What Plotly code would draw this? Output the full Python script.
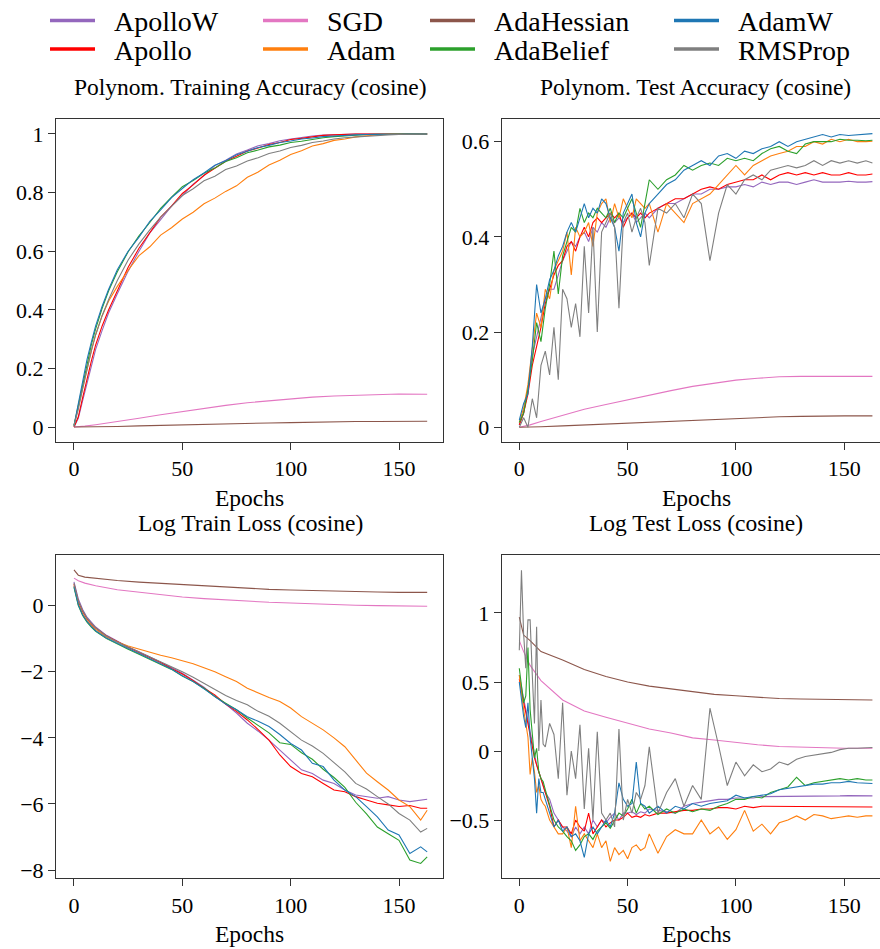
import plotly.graph_objects as go

# ---------------- data ----------------
NAMES = ["ApolloW", "Apollo", "SGD", "Adam", "AdaHessian", "AdaBelief", "AdamW", "RMSProp"]
COLORS = ["#9467bd", "#ff0000", "#e377c2", "#ff7f0e", "#8c564b", "#2ca02c", "#1f77b4", "#7f7f7f"]

SMOOTH_EPOCHS = [0, 2, 5, 10, 20, 30, 40, 50, 60, 70, 80, 90, 100, 110, 120, 130, 140, 150, 163]
TRAIN_ACC_EPOCHS = [0, 2, 4, 6, 8, 10, 13, 16, 20] + list(range(25, 161, 5)) + [163]
TEST_ACC_EPOCHS = list(range(0, 62, 2)) + list(range(64, 161, 4)) + [163]
TRAIN_LOSS_EPOCHS = [0, 1, 2, 4, 6, 8, 10] + list(range(15, 161, 5)) + [163]
TEST_LOSS_EPOCHS = list(range(0, 12)) + list(range(12, 62, 2)) + list(range(64, 161, 4)) + [163]

# Training accuracy
TA_APOLLOW = [0.0, 0.03, 0.09, 0.15, 0.21, 0.265, 0.33, 0.39, 0.455, 0.532, 0.6, 0.662, 0.708, 0.754, 0.79, 0.829, 0.858, 0.892, 0.91, 0.932, 0.945, 0.96, 0.967, 0.977, 0.983, 0.989, 0.993, 0.996, 0.998, 0.999, 1.0, 1.0, 1.0, 1.0, 1.0, 1.0, 1.0, 1.0]
TA_APOLLO = [0.0, 0.035, 0.1, 0.165, 0.225, 0.28, 0.345, 0.4, 0.466, 0.545, 0.61, 0.663, 0.716, 0.754, 0.797, 0.826, 0.859, 0.883, 0.907, 0.924, 0.942, 0.952, 0.964, 0.971, 0.981, 0.985, 0.991, 0.995, 0.997, 0.999, 1.0, 1.0, 1.0, 1.0, 1.0, 1.0, 1.0, 1.0]
TA_ADAM = [0.005, 0.07, 0.14, 0.2, 0.26, 0.315, 0.38, 0.43, 0.48, 0.535, 0.585, 0.615, 0.655, 0.68, 0.71, 0.733, 0.762, 0.781, 0.804, 0.823, 0.852, 0.87, 0.894, 0.91, 0.93, 0.943, 0.959, 0.967, 0.978, 0.983, 0.99, 0.994, 0.997, 0.999, 1.0, 1.0, 1.0, 1.0]
TA_ADABELIEF = [0.005, 0.075, 0.15, 0.22, 0.28, 0.335, 0.405, 0.465, 0.53, 0.598, 0.652, 0.698, 0.746, 0.784, 0.82, 0.841, 0.866, 0.884, 0.906, 0.919, 0.936, 0.945, 0.956, 0.962, 0.971, 0.975, 0.982, 0.987, 0.991, 0.994, 0.996, 0.998, 0.999, 1.0, 1.0, 1.0, 1.0, 1.0]
TA_ADAMW = [0.005, 0.08, 0.16, 0.23, 0.29, 0.345, 0.412, 0.47, 0.537, 0.6, 0.648, 0.702, 0.741, 0.783, 0.814, 0.844, 0.867, 0.893, 0.909, 0.929, 0.941, 0.954, 0.961, 0.971, 0.976, 0.983, 0.986, 0.991, 0.993, 0.996, 0.997, 0.998, 0.999, 0.999, 1.0, 1.0, 1.0, 1.0]
TA_RMSPROP = [0.005, 0.06, 0.13, 0.2, 0.26, 0.315, 0.38, 0.435, 0.5, 0.57, 0.625, 0.673, 0.716, 0.753, 0.79, 0.813, 0.84, 0.856, 0.879, 0.891, 0.908, 0.919, 0.933, 0.942, 0.954, 0.961, 0.971, 0.976, 0.983, 0.987, 0.99, 0.993, 0.995, 0.997, 0.998, 0.999, 1.0, 1.0]
TA_SGD = [0.0, 0.001, 0.003, 0.008, 0.018, 0.03, 0.042, 0.053, 0.064, 0.074, 0.083, 0.09, 0.097, 0.102, 0.106, 0.109, 0.111, 0.113, 0.112]
TA_ADAHESSIAN = [0.0, 0.0, 0.0, 0.001, 0.002, 0.004, 0.006, 0.007, 0.009, 0.011, 0.012, 0.014, 0.015, 0.017, 0.018, 0.019, 0.019, 0.02, 0.02]

# Test accuracy
TE_APOLLOW = [0.005, 0.03, 0.08, 0.15, 0.19, 0.23, 0.27, 0.29, 0.29, 0.32, 0.35, 0.37, 0.39, 0.38, 0.40, 0.41, 0.39, 0.42, 0.41, 0.43, 0.42, 0.44, 0.43, 0.44, 0.43, 0.44, 0.45, 0.43, 0.44, 0.45, 0.44,
              0.46, 0.47, 0.47, 0.48, 0.49, 0.49, 0.5, 0.5, 0.505, 0.505, 0.51, 0.505, 0.515, 0.51, 0.515, 0.515, 0.51, 0.515, 0.52, 0.515, 0.515, 0.515, 0.517, 0.515, 0.515, 0.516]
TE_APOLLO = [0.005, 0.03, 0.07, 0.13, 0.17, 0.21, 0.26, 0.29, 0.32, 0.34, 0.35, 0.38, 0.39, 0.37, 0.40, 0.42, 0.40, 0.43, 0.44, 0.43, 0.44, 0.45, 0.44, 0.45, 0.42, 0.44, 0.45, 0.44, 0.45, 0.44, 0.45,
             0.46, 0.47, 0.48, 0.48, 0.49, 0.5, 0.505, 0.5, 0.51, 0.515, 0.52, 0.52, 0.53, 0.52, 0.53, 0.535, 0.53, 0.535, 0.53, 0.535, 0.53, 0.53, 0.535, 0.53, 0.53, 0.532]
TE_ADAM = [0.01, 0.04, 0.09, 0.17, 0.24, 0.21, 0.29, 0.27, 0.33, 0.35, 0.37, 0.41, 0.32, 0.42, 0.40, 0.41, 0.43, 0.38, 0.45, 0.47, 0.48, 0.43, 0.47, 0.44, 0.48, 0.46, 0.44, 0.48, 0.47, 0.46, 0.47,
           0.41, 0.47, 0.45, 0.43, 0.47, 0.48, 0.49, 0.51, 0.53, 0.55, 0.53, 0.55, 0.56, 0.57, 0.575, 0.58, 0.59, 0.59, 0.6, 0.595, 0.605, 0.6, 0.605, 0.6, 0.6, 0.601]
TE_ADABELIEF = [0.01, 0.03, 0.08, 0.14, 0.22, 0.18, 0.25, 0.3, 0.37, 0.28, 0.36, 0.39, 0.42, 0.41, 0.46, 0.43, 0.45, 0.44, 0.46, 0.45, 0.44, 0.46, 0.43, 0.45, 0.44, 0.46, 0.48, 0.45, 0.42, 0.47, 0.52,
                0.5, 0.52, 0.53, 0.55, 0.54, 0.55, 0.555, 0.55, 0.565, 0.56, 0.565, 0.56, 0.575, 0.585, 0.59, 0.58, 0.575, 0.595, 0.6, 0.6, 0.6, 0.605, 0.603, 0.603, 0.602, 0.603]
TE_ADAMW = [0.015, 0.05, 0.07, 0.17, 0.30, 0.24, 0.27, 0.31, 0.33, 0.36, 0.38, 0.41, 0.43, 0.41, 0.44, 0.47, 0.44, 0.46, 0.45, 0.48, 0.47, 0.44, 0.42, 0.37, 0.45, 0.47, 0.49, 0.43, 0.40, 0.45, 0.47,
            0.49, 0.51, 0.52, 0.54, 0.55, 0.56, 0.55, 0.57, 0.575, 0.565, 0.58, 0.575, 0.585, 0.59, 0.6, 0.59, 0.6, 0.605, 0.61, 0.615, 0.61, 0.615, 0.613, 0.614, 0.615, 0.617]
TE_RMSPROP = [0.0, 0.02, 0.0, 0.06, 0.02, 0.13, 0.16, 0.11, 0.21, 0.1, 0.29, 0.27, 0.21, 0.26, 0.19, 0.38, 0.24, 0.42, 0.2, 0.41, 0.43, 0.45, 0.42, 0.25, 0.43, 0.45, 0.41, 0.44, 0.46, 0.43, 0.34,
              0.46, 0.45, 0.47, 0.44, 0.49, 0.47, 0.35, 0.45, 0.51, 0.49, 0.52, 0.53, 0.52, 0.54, 0.545, 0.55, 0.545, 0.55, 0.56, 0.55, 0.56, 0.555, 0.56, 0.555, 0.56, 0.555]
TE_SGD = [0.0, 0.002, 0.005, 0.012, 0.025, 0.038, 0.048, 0.058, 0.068, 0.077, 0.086, 0.092, 0.099, 0.103, 0.106, 0.107, 0.107, 0.108, 0.107]
TE_ADAHESSIAN = [0.0, 0.0, 0.0, 0.001, 0.003, 0.005, 0.007, 0.009, 0.011, 0.013, 0.015, 0.017, 0.019, 0.021, 0.022, 0.023, 0.024, 0.024, 0.024]

# Log train loss
TL_APOLLOW = [0.72, 0.45, 0.2, -0.12, -0.35, -0.5, -0.65, -0.9, -1.08, -1.25, -1.4, -1.55, -1.7, -1.87, -2.05, -2.25, -2.47, -2.75, -2.98, -3.25, -3.56, -3.8, -4.07, -4.37, -4.67, -4.97, -5.08, -5.28, -5.38, -5.58, -5.73, -5.78, -5.83, -5.78, -5.88, -5.93, -5.88, -5.86]
TL_APOLLO = [0.65, 0.38, 0.12, -0.18, -0.4, -0.55, -0.68, -0.92, -1.1, -1.26, -1.42, -1.57, -1.72, -1.9, -2.07, -2.27, -2.5, -2.7, -2.98, -3.2, -3.46, -3.75, -4.07, -4.52, -4.87, -5.08, -5.18, -5.38, -5.58, -5.63, -5.78, -5.88, -5.98, -6.03, -6.08, -6.05, -6.13, -6.13]
TL_ADAM = [0.6, 0.3, 0.05, -0.25, -0.45, -0.6, -0.72, -0.95, -1.1, -1.22, -1.32, -1.42, -1.5, -1.58, -1.66, -1.76, -1.88, -2.0, -2.15, -2.3, -2.5, -2.65, -2.78, -2.9, -3.1, -3.36, -3.55, -3.76, -4.0, -4.27, -4.67, -5.07, -5.33, -5.58, -5.88, -6.08, -6.49, -6.19]
TL_ADABELIEF = [0.55, 0.25, 0.0, -0.3, -0.5, -0.65, -0.78, -1.0, -1.17, -1.32, -1.47, -1.62, -1.77, -1.93, -2.13, -2.3, -2.5, -2.75, -2.95, -3.15, -3.4, -3.62, -3.85, -4.15, -4.2, -4.45, -4.65, -4.95, -5.2, -5.5, -5.95, -6.3, -6.7, -6.9, -7.1, -7.7, -7.8, -7.6]
TL_ADAMW = [0.58, 0.28, 0.02, -0.28, -0.48, -0.63, -0.76, -0.98, -1.15, -1.3, -1.45, -1.6, -1.75, -1.92, -2.12, -2.3, -2.52, -2.75, -2.98, -3.15, -3.36, -3.5, -3.66, -3.9, -4.17, -4.37, -4.77, -4.87, -5.28, -5.58, -5.78, -6.08, -6.39, -6.79, -6.94, -7.5, -7.3, -7.45]
TL_RMSPROP = [0.68, 0.4, 0.15, -0.15, -0.38, -0.53, -0.67, -0.92, -1.1, -1.25, -1.4, -1.55, -1.68, -1.85, -2.0, -2.17, -2.35, -2.55, -2.72, -2.87, -3.0, -3.2, -3.35, -3.56, -3.82, -4.07, -4.25, -4.47, -4.75, -5.03, -5.38, -5.55, -5.78, -6.0, -6.29, -6.49, -6.85, -6.74]
TL_SGD = [0.83, 0.75, 0.68, 0.6, 0.48, 0.4, 0.32, 0.26, 0.21, 0.17, 0.13, 0.1, 0.08, 0.05, 0.03, 0.01, 0.0, -0.01, -0.02]
TL_ADAHESSIAN = [1.08, 0.92, 0.86, 0.82, 0.76, 0.71, 0.67, 0.63, 0.59, 0.56, 0.52, 0.49, 0.47, 0.45, 0.43, 0.42, 0.41, 0.4, 0.4]

# Log test loss
TS_APOLLOW = [0.55, 0.45, 0.38, 0.3, 0.22, 0.15, 0.05, -0.03, -0.1, -0.15, -0.2, -0.25,
              -0.3, -0.35, -0.45, -0.5, -0.55, -0.58, -0.62, -0.55, -0.6, -0.55, -0.6, -0.5, -0.55, -0.5, -0.52, -0.48, -0.45, -0.5, -0.45, -0.45, -0.44, -0.46, -0.44, -0.45, -0.42,
              -0.43, -0.44, -0.45, -0.4, -0.38, -0.37, -0.36, -0.35, -0.35, -0.34, -0.34, -0.34, -0.33, -0.33, -0.33, -0.33, -0.33, -0.33, -0.325, -0.325, -0.325, -0.325, -0.323, -0.325, -0.325,
              -0.325]
TS_APOLLO = [0.52, 0.42, 0.35, 0.28, 0.2, 0.12, 0.05, -0.05, -0.1, -0.15, -0.2, -0.25,
             -0.3, -0.4, -0.55, -0.5, -0.55, -0.55, -0.6, -0.5, -0.55, -0.58, -0.45, -0.6, -0.55, -0.5, -0.55, -0.52, -0.5, -0.5, -0.48, -0.45, -0.48, -0.47, -0.48, -0.46, -0.47,
             -0.45, -0.45, -0.44, -0.43, -0.43, -0.42, -0.42, -0.41, -0.41, -0.42, -0.4, -0.41, -0.4, -0.4, -0.4, -0.4, -0.4, -0.4, -0.4, -0.4, -0.4, -0.4, -0.4, -0.4, -0.405,
             -0.405]
TS_ADAM = [0.55, 0.4, 0.3, 0.2, 0.1, -0.17, -0.05, -0.15, -0.3, -0.25, -0.35, -0.38,
           -0.4, -0.5, -0.55, -0.6, -0.6, -0.55, -0.7, -0.4, -0.65, -0.6, -0.65, -0.7, -0.6, -0.7, -0.65, -0.8, -0.7, -0.75, -0.72, -0.78, -0.7, -0.68, -0.72, -0.7, -0.6,
           -0.74, -0.62, -0.57, -0.6, -0.6, -0.5, -0.6, -0.55, -0.64, -0.57, -0.43, -0.58, -0.53, -0.6, -0.52, -0.5, -0.47, -0.5, -0.46, -0.47, -0.49, -0.48, -0.47, -0.48, -0.47,
           -0.47]
TS_ADABELIEF = [0.6, 0.45, 0.35, 0.4, 0.75, 0.3, 0.1, -0.05, 0.02, -0.15, -0.2, -0.22,
                -0.28, -0.4, -0.5, -0.55, -0.58, -0.62, -0.65, -0.72, -0.68, -0.62, -0.6, -0.64, -0.58, -0.55, -0.52, -0.56, -0.5, -0.45, -0.47, -0.42, -0.35, -0.45, -0.38, -0.42, -0.4,
                -0.46, -0.42, -0.45, -0.42, -0.44, -0.42, -0.43, -0.4, -0.38, -0.35, -0.35, -0.33, -0.34, -0.3, -0.28, -0.26, -0.19, -0.25, -0.23, -0.22, -0.21, -0.2, -0.21, -0.2, -0.21,
                -0.21]
TS_ADAMW = [0.5, 0.35, 0.25, 0.17, 0.35, 0.1, -0.05, -0.2, -0.45, -0.2, -0.3, -0.3,
            -0.35, -0.45, -0.55, -0.5, -0.58, -0.55, -0.62, -0.6, -0.65, -0.77, -0.6, -0.55, -0.6, -0.55, -0.5, -0.55, -0.45, -0.23, -0.35, -0.4, -0.38, -0.08, -0.38, -0.4, -0.45,
            -0.4, -0.45, -0.4, -0.42, -0.38, -0.4, -0.38, -0.37, -0.36, -0.32, -0.34, -0.33, -0.32, -0.31, -0.28, -0.27, -0.26, -0.25, -0.24, -0.24, -0.23, -0.23, -0.22, -0.23, -0.235,
            -0.235]
TS_RMSPROP = [0.73, 1.31, 0.85, 0.6, 0.95, 0.95, 0.55, 0.2, 0.9, 0.0, 0.37, 0.05,
              0.03, 0.2, 0.12, -0.2, 0.35, -0.32, 0.0, -0.2, 0.19, -0.42, 0.02, -0.5, 0.14, -0.45, -0.5, -0.45, -0.55, 0.16, -0.5, -0.35, -0.45, -0.3, -0.35, -0.25, 0.03,
              -0.45, -0.3, -0.2, -0.4, -0.25, -0.35, 0.31, 0.04, -0.25, -0.08, -0.18, -0.1, -0.15, -0.13, -0.08, -0.1, -0.06, -0.04, -0.03, -0.02, -0.01, 0.01, 0.02, 0.02, 0.025,
              0.025]
TS_SGD = [0.8, 0.72, 0.62, 0.51, 0.37, 0.29, 0.245, 0.205, 0.16, 0.13, 0.095, 0.08, 0.06, 0.045, 0.033, 0.027, 0.022, 0.02, 0.02]
TS_ADAHESSIAN = [0.97, 0.84, 0.8, 0.72, 0.66, 0.59, 0.54, 0.5, 0.47, 0.45, 0.425, 0.41, 0.4, 0.39, 0.38, 0.377, 0.374, 0.37, 0.37]

PANEL_TITLES = ["Polynom. Training Accuracy (cosine)", "Polynom. Test Accuracy (cosine)",
                "Log Train Loss (cosine)", "Log Test Loss (cosine)"]
X_TITLE = "Epochs"

# ---------------- figure ----------------
FONT = "Liberation Serif"
W, H = 880, 949

panels = [
    ("x", "y", {
        "ApolloW": (TRAIN_ACC_EPOCHS, TA_APOLLOW), "Apollo": (TRAIN_ACC_EPOCHS, TA_APOLLO),
        "SGD": (SMOOTH_EPOCHS, TA_SGD), "Adam": (TRAIN_ACC_EPOCHS, TA_ADAM),
        "AdaHessian": (SMOOTH_EPOCHS, TA_ADAHESSIAN), "AdaBelief": (TRAIN_ACC_EPOCHS, TA_ADABELIEF),
        "AdamW": (TRAIN_ACC_EPOCHS, TA_ADAMW), "RMSProp": (TRAIN_ACC_EPOCHS, TA_RMSPROP)}),
    ("x2", "y2", {
        "ApolloW": (TEST_ACC_EPOCHS, TE_APOLLOW), "Apollo": (TEST_ACC_EPOCHS, TE_APOLLO),
        "SGD": (SMOOTH_EPOCHS, TE_SGD), "Adam": (TEST_ACC_EPOCHS, TE_ADAM),
        "AdaHessian": (SMOOTH_EPOCHS, TE_ADAHESSIAN), "AdaBelief": (TEST_ACC_EPOCHS, TE_ADABELIEF),
        "AdamW": (TEST_ACC_EPOCHS, TE_ADAMW), "RMSProp": (TEST_ACC_EPOCHS, TE_RMSPROP)}),
    ("x3", "y3", {
        "ApolloW": (TRAIN_LOSS_EPOCHS, TL_APOLLOW), "Apollo": (TRAIN_LOSS_EPOCHS, TL_APOLLO),
        "SGD": (SMOOTH_EPOCHS, TL_SGD), "Adam": (TRAIN_LOSS_EPOCHS, TL_ADAM),
        "AdaHessian": (SMOOTH_EPOCHS, TL_ADAHESSIAN), "AdaBelief": (TRAIN_LOSS_EPOCHS, TL_ADABELIEF),
        "AdamW": (TRAIN_LOSS_EPOCHS, TL_ADAMW), "RMSProp": (TRAIN_LOSS_EPOCHS, TL_RMSPROP)}),
    ("x4", "y4", {
        "ApolloW": (TEST_LOSS_EPOCHS, TS_APOLLOW), "Apollo": (TEST_LOSS_EPOCHS, TS_APOLLO),
        "SGD": (SMOOTH_EPOCHS, TS_SGD), "Adam": (TEST_LOSS_EPOCHS, TS_ADAM),
        "AdaHessian": (SMOOTH_EPOCHS, TS_ADAHESSIAN), "AdaBelief": (TEST_LOSS_EPOCHS, TS_ADABELIEF),
        "AdamW": (TEST_LOSS_EPOCHS, TS_ADAMW), "RMSProp": (TEST_LOSS_EPOCHS, TS_RMSPROP)}),
]

LEGEND_IDS = ["legend", "legend2", "legend3", "legend4", "legend5", "legend6", "legend7", "legend8"]

fig = go.Figure()
for p, (xa, ya, series) in enumerate(panels):
    for i, name in enumerate(NAMES):
        ep, vals = series[name]
        fig.add_trace(go.Scatter(
            x=ep, y=vals, mode="lines", name=name,
            line=dict(color=COLORS[i], width=1.1),
            xaxis=xa, yaxis=ya, showlegend=False,
        ))

# legend handles (thicker line samples, no data points)
for i, name in enumerate(NAMES):
    fig.add_trace(go.Scatter(
        x=[None], y=[None], mode="lines", name="\u00a0\u00a0" + name,
        line=dict(color=COLORS[i], width=3.5),
        xaxis="x", yaxis="y", legend=LEGEND_IDS[i], showlegend=True, hoverinfo="skip",
    ))

def px_x(v):
    return v / W

def px_y(v):
    return 1 - v / H

axis_common = dict(showline=True, linecolor="#333", linewidth=1, ticks="outside", ticklen=7,
                   tickcolor="#333", tickwidth=1, showgrid=False, zeroline=False,
                   tickfont=dict(family=FONT, size=22, color="black"))

XL = [px_x(56), px_x(443)]
XR = [px_x(501.7), 1.0]
YT = [px_y(441.7), px_y(119.3)]
YB = [px_y(878.3), px_y(555)]

layout = dict(
    width=W, height=H,
    margin=dict(l=0, r=0, t=0, b=0, autoexpand=False),
    paper_bgcolor="white", plot_bgcolor="white",
    font=dict(family=FONT, color="black"),
    xaxis=dict(domain=XL, range=[-8.3, 170.3], dtick=50, tick0=0, mirror=True, anchor="y", **axis_common),
    yaxis=dict(domain=YT, range=[-0.05, 1.05], dtick=0.2, tick0=0, mirror=True, anchor="x", **axis_common),
    xaxis2=dict(domain=XR, range=[-8.12, 166.5], dtick=50, tick0=0, mirror=True, anchor="y2", **axis_common),
    yaxis2=dict(domain=YT, range=[-0.0303, 0.647], dtick=0.2, tick0=0, mirror=False, anchor="x2", **axis_common),
    xaxis3=dict(domain=XL, range=[-8.3, 170.3], dtick=50, tick0=0, mirror=True, anchor="y3", **axis_common),
    yaxis3=dict(domain=YB, range=[-8.25, 1.53], dtick=2, tick0=0, mirror=True, anchor="x3", **axis_common),
    xaxis4=dict(domain=XR, range=[-8.12, 166.5], dtick=50, tick0=0, mirror=True, anchor="y4", **axis_common),
    yaxis4=dict(domain=YB, range=[-0.922, 1.42], dtick=0.5, tick0=0, mirror=False, anchor="x4", **axis_common),
)

col_left = [45, 258, 425, 669]
row_y = [20.7, 49.3]
for i, lid in enumerate(LEGEND_IDS):
    col, row = i // 2, i % 2
    layout[lid] = dict(
        x=px_x(col_left[col]), y=px_y(row_y[row]), xanchor="left", yanchor="middle",
        orientation="v", itemwidth=45, bgcolor="rgba(0,0,0,0)", borderwidth=0,
        font=dict(family=FONT, size=28, color="black"),
    )

title_pos = [(249.5, 87), (695, 87), (250, 522.5), (696, 522.5)]
epochs_pos = [(249.5, 498), (696, 498), (249.5, 933.5), (696, 933.5)]
annotations = []
for (tx, ty), txt in zip(title_pos, PANEL_TITLES):
    annotations.append(dict(text=txt, x=px_x(tx), y=px_y(ty), xref="paper", yref="paper",
                            xanchor="center", yanchor="middle", showarrow=False,
                            font=dict(family=FONT, size=23.5, color="black")))
for ex, ey in epochs_pos:
    annotations.append(dict(text=X_TITLE, x=px_x(ex), y=px_y(ey), xref="paper", yref="paper",
                            xanchor="center", yanchor="middle", showarrow=False,
                            font=dict(family=FONT, size=23.5, color="black")))
layout["annotations"] = annotations

fig.update_layout(**layout)
fig.write_html("out.html")
